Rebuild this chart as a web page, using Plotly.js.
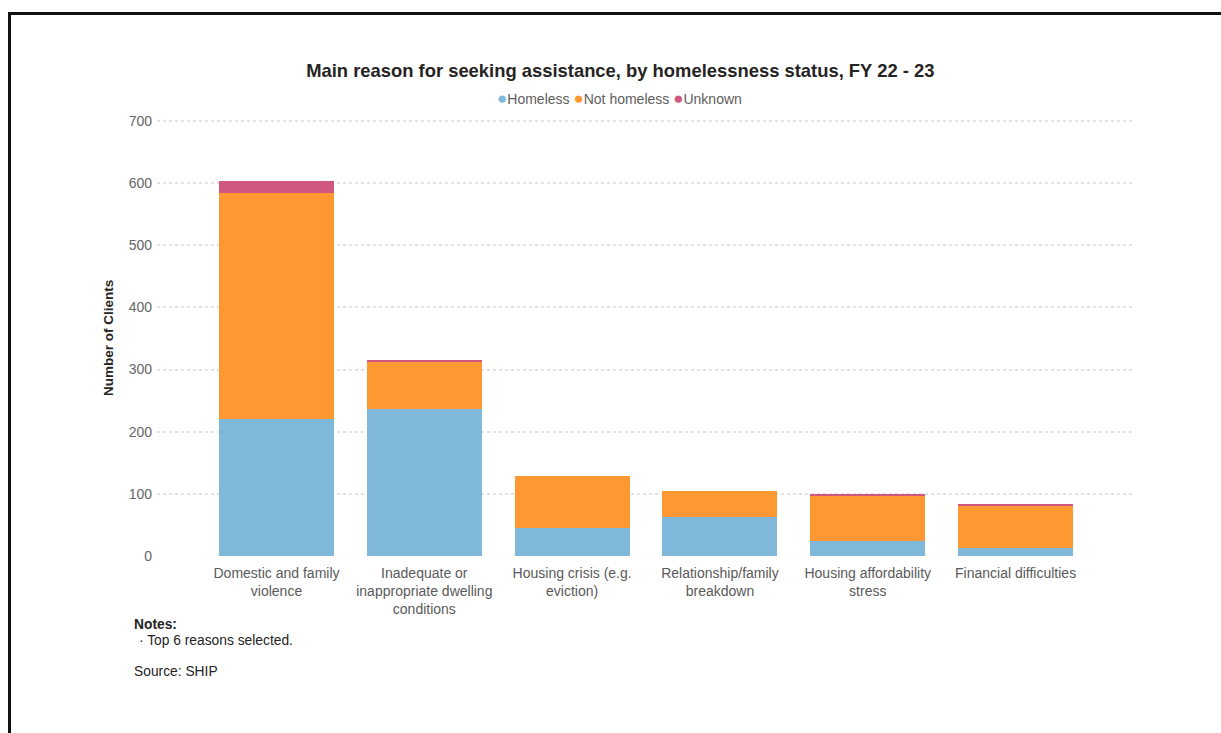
<!DOCTYPE html>
<html>
<head>
<meta charset="utf-8">
<script src="https://cdn.plot.ly/plotly-3.0.1.min.js"></script>
<style>
  html, body { margin: 0; padding: 0; background: #fff; }
  #chart { width: 1221px; height: 733px; }
  #frame { position: absolute; left: 8px; top: 12px; width: 1300px; height: 800px;
           border-left: 3px solid #111; border-top: 3px solid #111; pointer-events: none; }
</style>
</head>
<body>
<div id="chart"></div>
<div id="frame"></div>
<script>
const categories = [
  "Domestic and family<br>violence",
  "Inadequate or<br>inappropriate dwelling<br>conditions",
  "Housing crisis (e.g.<br>eviction)",
  "Relationship/family<br>breakdown",
  "Housing affordability<br>stress",
  "Financial difficulties"
];
const seriesNames = ["Homeless", "Not homeless", "Unknown"];
const homeless    = [220, 237, 45, 62, 24, 13];
const notHomeless = [364, 76, 83, 42, 73, 69];
const unknown     = [20, 2, 0, 0, 2, 2];
const colors = ["#7fb8d8", "#fd9833", "#d0587e"];
const yTicks = [0, 100, 200, 300, 400, 500, 600, 700];

const xIdx = categories.map((_, i) => i);
const values = [homeless, notHomeless, unknown];

const traces = values.map((v, k) => ({
  type: "bar",
  name: seriesNames[k],
  x: xIdx,
  y: v,
  width: 0.778,
  marker: { color: colors[k], line: { width: 0 } },
  showlegend: false,
  hoverinfo: "x+y+name"
}));

const legendText = seriesNames.map((n, k) =>
  '<span style="color:' + colors[k] + ';font-size:17px">●</span>' + n).join(" ");

const FONT = "Liberation Sans, Arial, sans-serif";

// plot area: x 157..1135, y 119..556 (0..703)
const PL = 157, PW = 978, PB = 556, PH = 437;
const px = X => (X - PL) / PW;
const py = Y => (PB - Y) / PH;

const layout = {
  width: 1221,
  height: 733,
  barmode: "stack",
  paper_bgcolor: "#ffffff",
  plot_bgcolor: "#ffffff",
  font: { family: FONT, color: "#605e5c", size: 14 },
  margin: { l: PL, r: 1221 - PL - PW, t: PB - PH, b: 733 - PB, pad: 0 },
  title: {
    text: "<b>Main reason for seeking assistance, by homelessness status, FY 22 - 23</b>",
    font: { family: FONT, size: 18.4, color: "#252423" },
    x: 0.508, xref: "container", xanchor: "center",
    y: 1 - 71 / 733, yref: "container", yanchor: "middle"
  },
  xaxis: {
    tickmode: "array",
    tickvals: xIdx,
    ticktext: categories,
    range: [-0.8085, 5.808],
    showgrid: false,
    zeroline: false,
    showline: false,
    ticks: "",
    ticklabelstandoff: 7,
    tickfont: { family: FONT, size: 14, color: "#5a5a5a" },
    fixedrange: true
  },
  yaxis: {
    range: [0, 703],
    tickmode: "array",
    tickvals: yTicks,
    ticktext: yTicks.map(String),
    showgrid: true,
    gridcolor: "#e2e2e2",
    griddash: "dot",
    gridwidth: 1.5,
    zeroline: false,
    showline: false,
    ticks: "",
    ticklabelstandoff: 4,
    tickfont: { family: FONT, size: 14, color: "#666666" },
    fixedrange: true
  },
  annotations: [
    {
      text: legendText,
      xref: "paper", yref: "paper",
      x: px(619), y: py(99),
      xanchor: "center", yanchor: "middle",
      showarrow: false,
      font: { family: FONT, size: 14, color: "#605e5c" }
    },
    {
      text: "<b>Number of Clients</b>",
      xref: "paper", yref: "paper",
      x: px(108), y: py(338),
      xanchor: "center", yanchor: "middle",
      textangle: -90,
      showarrow: false,
      font: { family: FONT, size: 13.5, color: "#252423" }
    },
    {
      text: "<b>Notes:</b>",
      xref: "paper", yref: "paper",
      x: px(132), y: py(624),
      xanchor: "left", yanchor: "middle",
      showarrow: false,
      font: { family: FONT, size: 13.8, color: "#252423" }
    },
    {
      text: "· Top 6 reasons selected.",
      xref: "paper", yref: "paper",
      x: px(137), y: py(640),
      xanchor: "left", yanchor: "middle",
      showarrow: false,
      font: { family: FONT, size: 13.8, color: "#252423" }
    },
    {
      text: "Source: SHIP",
      xref: "paper", yref: "paper",
      x: px(132), y: py(671),
      xanchor: "left", yanchor: "middle",
      showarrow: false,
      font: { family: FONT, size: 13.8, color: "#252423" }
    }
  ]
};

Plotly.newPlot("chart", traces, layout, { displayModeBar: false, responsive: false });
</script>
</body>
</html>
